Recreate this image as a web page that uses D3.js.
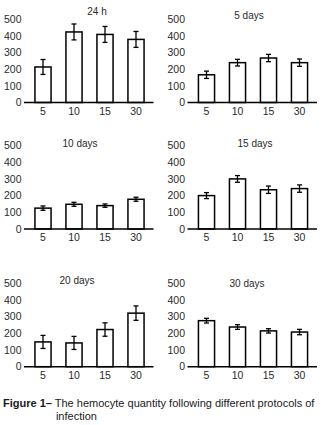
<!DOCTYPE html>
<html><head><meta charset="utf-8">
<script src="https://cdn.jsdelivr.net/npm/d3@7"></script>
<style>
html,body{margin:0;padding:0;background:#fff;}
svg{display:block;}
text{font-family:"Liberation Sans",Arial,sans-serif;}
</style></head>
<body>
<svg id="chart" width="325" height="425"></svg>
<script>
// ---- data ----
const categories = ["5", "10", "15", "30"];
const panelTitles = ["24 h", "5 days", "10 days", "15 days", "20 days", "30 days"];
const means24h = [214, 425, 410, 380];
const err24h   = [45, 48, 48, 48];
const means5d  = [167, 240, 268, 240];
const err5d    = [22, 20, 22, 22];
const means10d = [125, 148, 140, 178];
const err10d   = [13, 12, 10, 12];
const means15d = [200, 300, 235, 242];
const err15d   = [18, 20, 22, 22];
const means20d = [148, 142, 222, 320];
const err20d   = [39, 39, 40, 43];
const means30d = [275, 237, 214, 207];
const err30d   = [14, 14, 13, 16];
const yTicks = [0, 100, 200, 300, 400, 500];
const captionBold = "Figure 1\u2013";
const captionLine1 = " The hemocyte quantity following different protocols of";
const captionLine2 = "infection";

const seriesMeans = [means24h, means5d, means10d, means15d, means20d, means30d];
const seriesErr = [err24h, err5d, err10d, err15d, err20d, err30d];

// ---- layout ----
const colRange = [[27.5, 151.5], [191, 315]];
const rowRange = [[102.5, 19.5], [229, 145.5], [366.7, 283]];
const titlePos = [[97, 15], [249, 19], [80, 147], [255, 147], [77, 284], [247, 287]];

const svg = d3.select("#chart");
const textColor = "#2a2a2a";

seriesMeans.forEach((means, i) => {
  const col = i % 2, row = Math.floor(i / 2);
  const x = d3.scaleBand().domain(categories).range(colRange[col]).paddingInner(0.48).paddingOuter(0.24);
  const y = d3.scaleLinear().domain([0, 500]).range(rowRange[row]);
  const g = svg.append("g");
  const data = categories.map((c, k) => ({c, m: means[k], e: seriesErr[i][k]}));

  // y tick labels
  g.selectAll("text.ytick").data(yTicks).join("text")
    .attr("class", "ytick")
    .attr("x", colRange[col][0] - 6)
    .attr("y", d => y(d))
    .attr("dy", "0.36em")
    .attr("text-anchor", "end")
    .attr("font-size", 10.5)
    .attr("fill", textColor)
    .text(d => d);

  // bars
  g.selectAll("rect").data(data).join("rect")
    .attr("x", d => x(d.c))
    .attr("y", d => y(d.m))
    .attr("width", x.bandwidth())
    .attr("height", d => y(0) - y(d.m))
    .attr("fill", "#fff")
    .attr("stroke", "#000")
    .attr("stroke-width", 1.5);

  // error bars
  const cx = d => x(d.c) + x.bandwidth() / 2;
  g.selectAll("line.err").data(data).join("line")
    .attr("class", "err")
    .attr("x1", cx).attr("x2", cx)
    .attr("y1", d => y(d.m + d.e)).attr("y2", d => y(d.m - d.e))
    .attr("stroke", "#000").attr("stroke-width", 1.3);
  g.selectAll("line.capT").data(data).join("line")
    .attr("class", "capT")
    .attr("x1", d => cx(d) - 2.5).attr("x2", d => cx(d) + 2.5)
    .attr("y1", d => y(d.m + d.e)).attr("y2", d => y(d.m + d.e))
    .attr("stroke", "#000").attr("stroke-width", 1.3);
  g.selectAll("line.capB").data(data).join("line")
    .attr("class", "capB")
    .attr("x1", d => cx(d) - 2.5).attr("x2", d => cx(d) + 2.5)
    .attr("y1", d => y(d.m - d.e)).attr("y2", d => y(d.m - d.e))
    .attr("stroke", "#000").attr("stroke-width", 1.3);

  // x axis line
  g.append("line")
    .attr("x1", colRange[col][0] - 3.5).attr("x2", colRange[col][1] + 2)
    .attr("y1", y(0)).attr("y2", y(0))
    .attr("stroke", "#000").attr("stroke-width", 1.5);

  // x tick labels
  g.selectAll("text.xtick").data(categories).join("text")
    .attr("class", "xtick")
    .attr("x", d => x(d) + x.bandwidth() / 2)
    .attr("y", y(0) + 12)
    .attr("text-anchor", "middle")
    .attr("font-size", 10.5)
    .attr("fill", textColor)
    .text(d => d);

  // title
  g.append("text")
    .attr("x", titlePos[i][0]).attr("y", titlePos[i][1])
    .attr("text-anchor", "middle")
    .attr("font-size", 10)
    .attr("fill", textColor)
    .text(panelTitles[i]);
});

// caption
const cap = svg.append("text").attr("x", 3).attr("y", 407).attr("font-size", 11).attr("fill", "#1a1a1a");
const b = cap.append("tspan").attr("font-weight", "bold").text(captionBold);
cap.append("tspan").text(captionLine1);
const bw = b.node().getComputedTextLength();
svg.append("text").attr("x", 3 + bw + 4).attr("y", 420).attr("font-size", 11).attr("fill", "#1a1a1a").text(captionLine2);
</script>
</body></html>
